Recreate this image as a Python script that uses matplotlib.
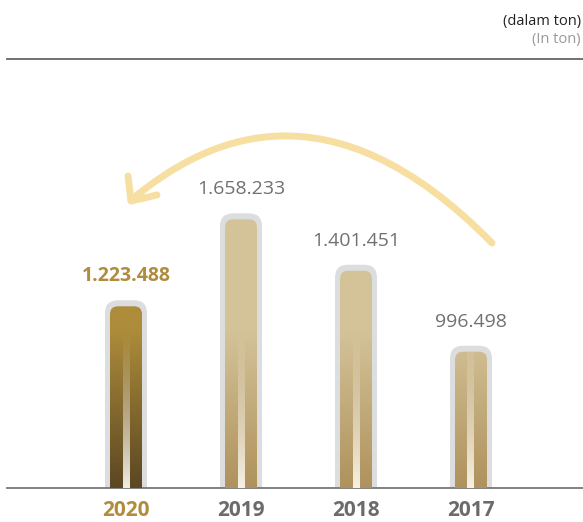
import numpy as np
import matplotlib.pyplot as plt
from matplotlib.patches import FancyBboxPatch, PathPatch
from matplotlib.path import Path
from matplotlib.colors import to_rgb

plt.rcParams['font.family'] = ['Open Sans', 'DejaVu Sans']

# production volume per year (ton)
years = ['2020', '2019', '2018', '2017']
values = [1223488, 1658233, 1401451, 996498]
value_labels = ['1.223.488', '1.658.233', '1.401.451', '996.498']
highlight = 0  # current year is drawn in gold

W, H = 583, 522
fig = plt.figure(figsize=(W / 100, H / 100), dpi=100)

# main axes: baseline at y=488px, top at the header rule
ax = fig.add_axes([7 / W, (H - 488) / H, 576 / W, (488 - 59) / H])
XLIM = (-(126 - 7) / 115, (583 - 126) / 115)
YLIM = (315000, 2460000)
ax.set_xlim(*XLIM)
ax.set_ylim(*YLIM)
for s in ['top', 'right', 'left']:
    ax.spines[s].set_visible(False)
ax.spines['bottom'].set_color('#777777')
ax.spines['bottom'].set_linewidth(1.3)
ax.set_yticks([])

# data units per pixel, used to keep the rounded tops circular
ux = (XLIM[1] - XLIM[0]) / 576
uy = (YLIM[1] - YLIM[0]) / 429
aspect = uy / ux

grad_top = 330  # pixel row where the bars start to darken
y_grad = YLIM[0] + (488 - grad_top) * uy
ys = np.linspace(YLIM[0], YLIM[1], 300)
t = np.clip((ys - YLIM[0]) / (y_grad - YLIM[0]), 0, 1)


def bar_image(c_top, c_bot):
    a, b = np.array(to_rgb(c_top)), np.array(to_rgb(c_bot))
    img = b[None, :] * (1 - t[:, None]) + a[None, :] * t[:, None]
    return img[:, None, :]


def stripe_image():
    img = np.zeros((len(ys), 1, 4))
    img[:, 0, :3] = to_rgb('#fbf7ee')
    img[:, 0, 3] = (1 - t) ** 1.2 * 0.95
    return img


x = np.arange(len(years))
bw = 32 * ux
for i, v in enumerate(values):
    # grey frame
    frame = FancyBboxPatch((x[i] - bw / 2 - 5 * ux, 0), bw + 10 * ux, v + 6 * uy,
                           boxstyle='round,pad=0,rounding_size=%f' % (13 * ux),
                           mutation_aspect=aspect, fc='#dcdddf', ec='none', zorder=2)
    ax.add_patch(frame)
    inner = FancyBboxPatch((x[i] - bw / 2, 0), bw, v,
                           boxstyle='round,pad=0,rounding_size=%f' % (8 * ux),
                           mutation_aspect=aspect, fc='none', ec='none', zorder=3)
    ax.add_patch(inner)
    if i == highlight:
        img = bar_image('#ad8c3b', '#5b4722')
    else:
        img = bar_image('#d4c399', '#af925c')
    im = ax.imshow(img, extent=[x[i] - bw / 2, x[i] + bw / 2, YLIM[0], YLIM[1]],
                   origin='lower', aspect='auto', zorder=3, interpolation='bilinear')
    im.set_clip_path(inner)
    st = ax.imshow(stripe_image(), extent=[x[i] - 3.5 * ux, x[i] + 3.5 * ux, YLIM[0], YLIM[1]],
                   origin='lower', aspect='auto', zorder=4, interpolation='bilinear')
    st.set_clip_path(inner)

    ax.annotate(value_labels[i], (x[i], v), xytext=(0, 30), textcoords='offset pixels',
                ha='center', va='center', fontsize=14,
                color='#b08d3e' if i == highlight else '#707070',
                fontweight='bold' if i == highlight else 'normal')

ax.set_xticks(x)
ax.set_xticklabels(years, fontsize=15, fontweight='bold')
ax.tick_params(axis='x', length=0, pad=9)
for i, lab in enumerate(ax.get_xticklabels()):
    lab.set_color('#b08d3e' if i == highlight else '#6b6b6b')
ax.set_xlim(*XLIM)
ax.set_ylim(*YLIM)

# overlay in pixel coordinates for header and the arrow
ov = fig.add_axes([0, 0, 1, 1], zorder=5)
ov.set_xlim(0, W)
ov.set_ylim(H, 0)
ov.axis('off')
ov.patch.set_alpha(0)

ov.plot([7, 583], [58.5, 58.5], color='#666666', lw=1.3)
ov.text(581, 21, '(dalam ton)', ha='right', va='center', fontsize=10.5, color='#222222')
ov.text(581, 40, '(In ton)', ha='right', va='center', fontsize=10.5, color='#9a9a9a')

arc = Path([(492, 243), (331, 79), (208, 136), (131, 200)],
           [Path.MOVETO, Path.CURVE4, Path.CURVE4, Path.CURVE4])
ov.add_patch(PathPatch(arc, fc='none', ec='#f7dfa1', lw=5, capstyle='round'))
ov.plot([128, 131, 157], [176, 201, 195], color='#f7dfa1', lw=5,
        solid_capstyle='round', solid_joinstyle='round')

fig.savefig('out.png', dpi=100)
